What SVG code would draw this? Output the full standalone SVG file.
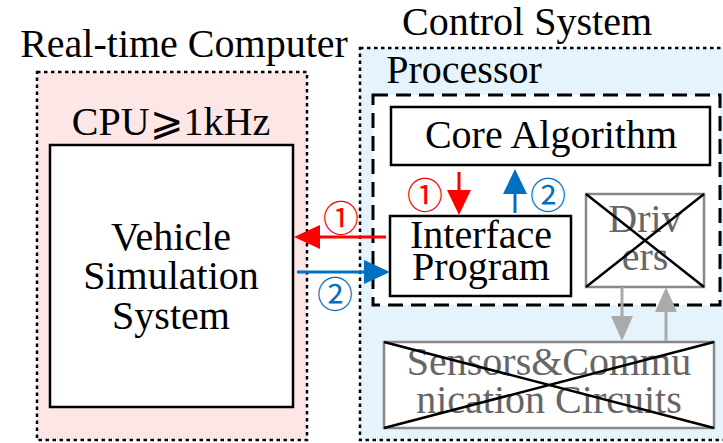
<svg xmlns="http://www.w3.org/2000/svg" width="723" height="443" viewBox="0 0 723 443">
<style>
.t{font-family:'Liberation Serif','Times New Roman',Times,serif;font-size:40px;fill:#000;text-anchor:middle}
.cont{stroke:#000;stroke-width:2.5;stroke-dasharray:3.5 3.5}
.box{fill:#fff;stroke:#000;stroke-width:2.5}
.gbox{fill:#fff;stroke:#888;stroke-width:2.5}
.gt{fill:#666}
.xl{stroke:#000;stroke-width:2.5}
.num{font-family:'Noto Sans CJK SC','DejaVu Sans',sans-serif;font-size:36px;text-anchor:middle}
</style>
<text class="t" x="184" y="57">Real-time Computer</text>
<text class="t" x="527" y="35">Control System</text>
<g id="realtime">
<rect x="37" y="72" width="270" height="368" fill="#fde6e6" class="cont"/>
<text class="t" x="171" y="135">CPU⩾1kHz</text>
</g>
<g id="control">
<rect x="360" y="48" width="372" height="392" fill="#e5f4fc" class="cont"/>
<text class="t" x="464" y="83">Processor</text>
</g>
<g id="processor">
<rect x="373" y="95" width="347" height="210" fill="#fff" stroke="#000" stroke-width="3" stroke-dasharray="15 8"/>
</g>
<g id="vehicle">
<rect x="50" y="145" width="243" height="262" class="box"/>
<text class="t" x="171" y="250">Vehicle</text>
<text class="t" x="171" y="289">Simulation</text>
<text class="t" x="171" y="329">System</text>
</g>
<g id="core">
<rect x="391" y="107" width="319" height="58" class="box"/>
<text class="t" x="551" y="148">Core Algorithm</text>
</g>
<g id="interface">
<rect x="390" y="216" width="181" height="80" class="box"/>
<text class="t" x="481" y="248">Interface</text>
<text class="t" x="481" y="280">Program</text>
</g>
<g id="drivers">
<rect x="586" y="194" width="118" height="93" class="gbox"/>
<text class="t gt" x="645" y="232">Driv</text>
<text class="t gt" x="645" y="270">ers</text>
<line x1="586" y1="194" x2="704" y2="287" class="xl"/>
<line x1="704" y1="194" x2="586" y2="287" class="xl"/>
</g>
<g id="sensors">
<rect x="384" y="342" width="330" height="86" class="gbox"/>
<text class="t gt" x="549" y="375">Sensors&amp;Commu</text>
<text class="t gt" x="549" y="413">nication Circuits</text>
<line x1="384" y1="342" x2="714" y2="428" class="xl"/>
<line x1="714" y1="342" x2="384" y2="428" class="xl"/>
</g>
<g id="connectors">
<line x1="459" y1="172" x2="459" y2="192" stroke="#f00" stroke-width="3"/>
<path d="M447,190 L471,190 L459,215 z" fill="#f00"/>
<line x1="515" y1="213" x2="515" y2="192" stroke="#0070c0" stroke-width="3"/>
<path d="M503,194 L527,194 L515,169 z" fill="#0070c0"/>
<line x1="386" y1="237" x2="316" y2="237" stroke="#f00" stroke-width="3"/>
<path d="M320,225 L320,249 L294,237 z" fill="#f00"/>
<line x1="297" y1="272" x2="366" y2="272" stroke="#0070c0" stroke-width="3"/>
<path d="M364,260 L364,284 L390,272 z" fill="#0070c0"/>
<line x1="622" y1="287" x2="622" y2="318" stroke="#aaa" stroke-width="3"/>
<path d="M611,316 L633,316 L622,341 z" fill="#aaa"/>
<line x1="666" y1="341" x2="666" y2="310" stroke="#aaa" stroke-width="3"/>
<path d="M655,312 L677,312 L666,287 z" fill="#aaa"/>
<text class="num" x="425" y="209" style="fill:#f00">①</text>
<text class="num" x="548" y="209" style="fill:#0070c0">②</text>
<text class="num" x="341" y="232" style="fill:#f00">①</text>
<text class="num" x="335" y="308" style="fill:#0070c0">②</text>
</g>
</svg>
